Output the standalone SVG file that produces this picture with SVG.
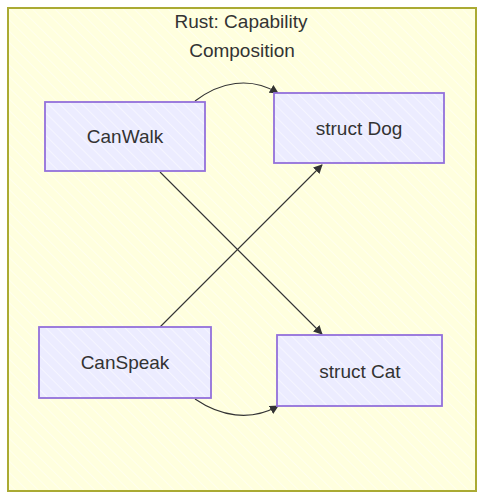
<svg xmlns="http://www.w3.org/2000/svg" width="484" height="500" viewBox="0 0 484 500">
<style>
.cluster{fill:#ffffde;stroke:#aaaa33;stroke-width:2}
.node rect{fill:#ececff;stroke:#9370db;stroke-width:1.8}
.lbl{font-family:"Liberation Sans",Arial,sans-serif;font-size:19px;fill:#333;text-anchor:middle}
.edge{fill:none;stroke:#333;stroke-width:1.1}
</style>
<defs>
<pattern id="hatchY" patternUnits="userSpaceOnUse" width="8" height="8" patternTransform="rotate(-45)">
<rect width="8" height="8" fill="#ffffde"/>
<line x1="0" y1="0" x2="0" y2="8" stroke="#ffffff" stroke-width="1.5" stroke-opacity="0.6"/>
</pattern>
<pattern id="hatchP" patternUnits="userSpaceOnUse" width="8" height="8" patternTransform="rotate(-45)">
<rect width="8" height="8" fill="#ececff"/>
<line x1="0" y1="0" x2="0" y2="8" stroke="#ffffff" stroke-width="1.5" stroke-opacity="0.6"/>
</pattern>
<marker id="arr" viewBox="0 0 10 10" refX="9" refY="5" markerWidth="9" markerHeight="9" markerUnits="userSpaceOnUse" orient="auto">
<path d="M0,0 L10,5 L0,10 z" fill="#333"/>
</marker>
</defs>
<g id="cluster">
<rect class="cluster" x="8" y="8" width="468" height="483" style="fill:url(#hatchY)"/>
<text class="lbl" x="241" y="28">Rust: Capability</text>
<text class="lbl" x="242" y="57">Composition</text>
</g>
<g id="edges">
<path class="edge" d="M195,101 C220,82 250,76 278,93" marker-end="url(#arr)"/>
<path class="edge" d="M160,172 L322,334" marker-end="url(#arr)"/>
<path class="edge" d="M160,327 L322,165" marker-end="url(#arr)"/>
<path class="edge" d="M195,399 C220,416 250,422 278,406" marker-end="url(#arr)"/>
</g>
<g id="CanWalk" class="node">
<rect x="45" y="102" width="160" height="69" style="fill:url(#hatchP)"/>
<text class="lbl" x="125" y="143">CanWalk</text>
</g>
<g id="Dog" class="node">
<rect x="274" y="93" width="170" height="70" style="fill:url(#hatchP)"/>
<text class="lbl" x="359" y="135">struct Dog</text>
</g>
<g id="CanSpeak" class="node">
<rect x="39" y="327" width="172" height="71" style="fill:url(#hatchP)"/>
<text class="lbl" x="125" y="369">CanSpeak</text>
</g>
<g id="Cat" class="node">
<rect x="277" y="335" width="165" height="71" style="fill:url(#hatchP)"/>
<text class="lbl" x="360" y="378">struct Cat</text>
</g>
</svg>
